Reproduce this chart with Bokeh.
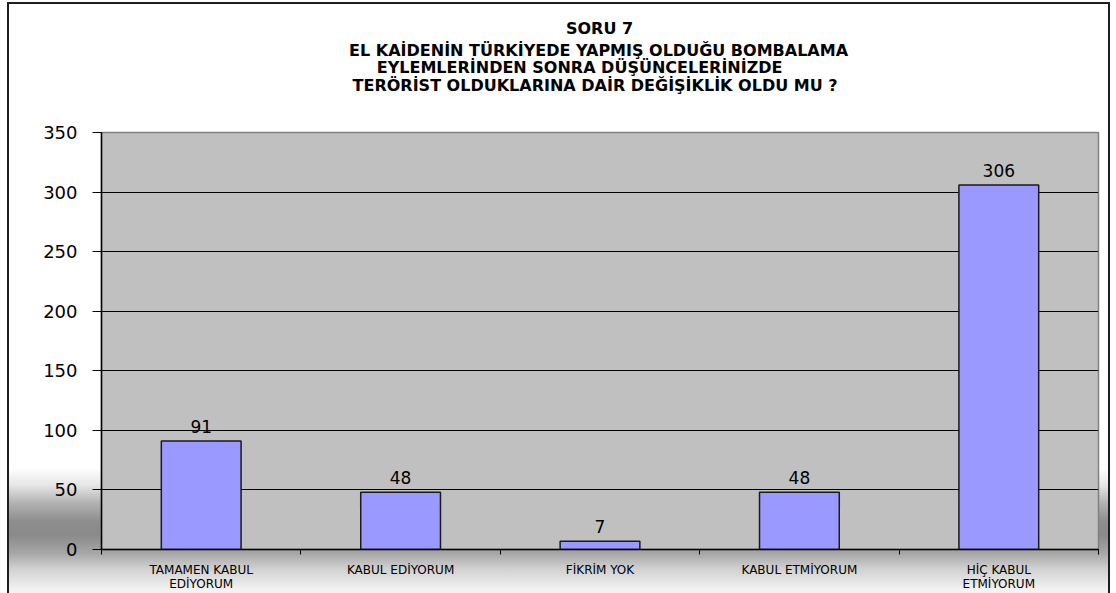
from bokeh.plotting import figure
from bokeh.layouts import column
from bokeh.models import Range1d, FixedTicker, ColumnDataSource, LabelSet, Label
from bokeh.core.properties import value
from bokeh.embed import file_html
from bokeh.resources import INLINE

# ---- data ----
CATEGORIES = ["TAMAMEN KABUL\nEDİYORUM", "KABUL EDİYORUM", "FİKRİM YOK",
              "KABUL ETMİYORUM", "HİÇ KABUL\nETMİYORUM"]
VALUES = [91, 48, 7, 48, 306]
Y_TICKS = [0, 50, 100, 150, 200, 250, 300, 350]
TITLE_LINES = ["SORU 7",
               "EL KAİDENİN TÜRKİYEDE YAPMIŞ OLDUĞU  BOMBALAMA",
               "EYLEMLERİNDEN SONRA DÜŞÜNCELERİNİZDE",
               "TERÖRİST OLDUKLARINA DAİR DEĞİŞİKLİK OLDU MU ?"]

# ---- layout constants (page pixels) ----
FIG_X, FIG_Y = 7, 2
W, H = 1103, 591
FRAME_L, FRAME_R, FRAME_T, FRAME_B = 101, 1098, 132, 553
TH = 120                      # height of the title strip
TITLE_POS = [(558, 28), (560, 50), (536, 67), (553, 85)]  # line centres

n = len(CATEGORIES)
x_pos = [i + 0.5 for i in range(n)]
src = ColumnDataSource(dict(x=x_pos, top=VALUES, label=[str(v) for v in VALUES]))

# ---- title strip (its data space equals page pixels) ----
t = figure(width=W, height=TH, output_backend="svg", toolbar_location=None,
           x_range=Range1d(FIG_X, FIG_X + W), y_range=Range1d(FIG_Y + TH, FIG_Y),
           x_axis_location=None, y_axis_location=None,
           min_border=0, min_border_left=0, min_border_right=0,
           min_border_top=0, min_border_bottom=0,
           background_fill_color=None, border_fill_color=None, outline_line_color=None)
t.grid.visible = False
for line, (cx, cy) in zip(TITLE_LINES, TITLE_POS):
    t.add_layout(Label(x=cx, y=cy, text=line, text_align="center", text_baseline="middle",
                       text_font="DejaVu Sans", text_font_style="bold",
                       text_font_size="16px", text_color="#000000"))

# ---- chart ----
top_of_p = FIG_Y + TH
p = figure(width=W, height=H - TH, output_backend="svg", toolbar_location=None,
           x_range=Range1d(0, n), y_range=Range1d(Y_TICKS[0], Y_TICKS[-1]),
           min_border_left=FRAME_L - FIG_X, min_border_right=FIG_X + W - FRAME_R,
           min_border_top=FRAME_T - top_of_p, min_border_bottom=FIG_Y + H - FRAME_B,
           background_fill_color="#C0C0C0", border_fill_color=None,
           outline_line_color="#808080", outline_line_width=1.5)

p.vbar(x="x", top="top", width=0.4, source=src,
       fill_color="#9999FF", line_color="#1a1a1a", line_width=1.5)

p.add_layout(LabelSet(x="x", y="top", text="label", source=src,
                      text_align="center", text_baseline="alphabetic", y_offset=8,
                      text_font=value("DejaVu Sans"), text_font_size=value("17px"),
                      text_color="#000000"))

# x axis: labels at bar centres, ticks between categories
xa = p.xaxis[0]
xa.ticker = FixedTicker(ticks=x_pos, minor_ticks=list(range(n + 1)))
xa.major_label_overrides = {x: c for x, c in zip(x_pos, CATEGORIES)}
xa.major_tick_out = 0
xa.major_tick_in = 0
xa.minor_tick_out = 5
xa.minor_tick_in = 0
xa.minor_tick_line_color = "#000000"
xa.axis_line_color = "#000000"
xa.axis_line_width = 1.5
xa.major_label_standoff = 8
xa.major_label_text_font = "DejaVu Sans"
xa.major_label_text_font_size = "12px"
xa.major_label_text_color = "#000000"
xa.major_label_text_line_height = 1.0

ya = p.yaxis[0]
ya.ticker = FixedTicker(ticks=Y_TICKS)
ya.major_tick_out = 9
ya.major_tick_in = 0
ya.minor_tick_out = 0
ya.minor_tick_in = 0
ya.major_tick_line_color = "#000000"
ya.axis_line_color = "#000000"
ya.axis_line_width = 1.5
ya.major_label_standoff = 15
ya.major_label_text_font = "DejaVu Sans"
ya.major_label_text_font_size = "18px"
ya.major_label_text_color = "#000000"

p.xgrid.visible = False
p.ygrid.ticker = FixedTicker(ticks=Y_TICKS[1:-1])
p.ygrid.grid_line_color = "#000000"
p.ygrid.grid_line_width = 1


def loc(y):
    return f"{y - FIG_Y}px"


page = column(t, p, spacing=0)
page.styles = {
    "margin-top": f"{FIG_Y}px",
    "margin-left": f"{FIG_X}px",
    "background": ("linear-gradient(to bottom, #ffffff 0px, #ffffff " + loc(468) +
                   ", #e4e4e4 " + loc(486) + ", #b2b2b2 " + loc(503) +
                   ", #8e8e8e " + loc(521) + ", #8a8a8a " + loc(535) +
                   ", #a6a6a6 " + loc(553) + ", #cfcfcf " + loc(568) +
                   ", #f3f3f3 " + loc(590) + ")"),
    "box-shadow": "inset 2px 2px 0 #1e1e1e, inset -2px 0 0 #1e1e1e",
}

open("out.html", "w").write(file_html(page, INLINE))
